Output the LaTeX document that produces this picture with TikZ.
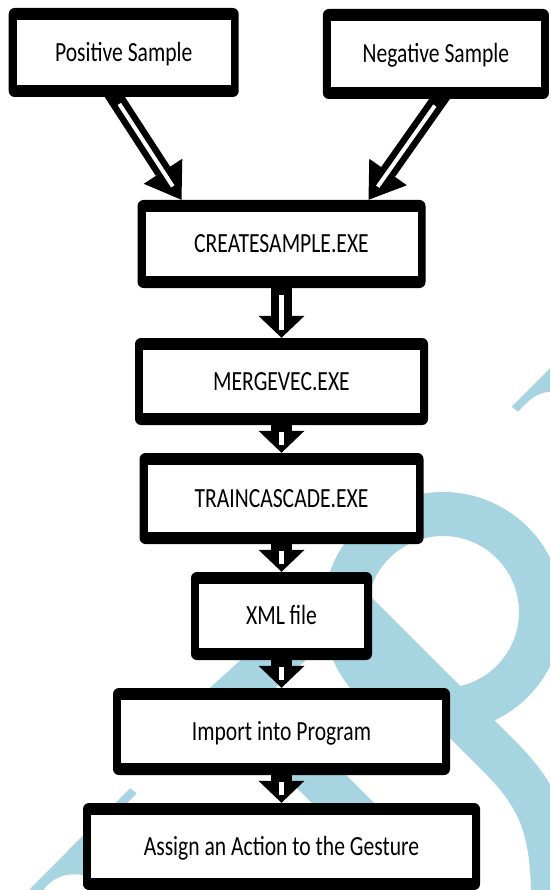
\documentclass[tikz,border=0pt]{standalone}
\usepackage{fontspec}
\setmainfont{Carlito}[FakeStretch=0.78]
\usetikzlibrary{arrows.meta,calc}
\definecolor{marca}{RGB}{166,212,225}

\begin{document}
\begin{tikzpicture}[x=1pt, y=1pt,
    etapa/.style={fill=black, rounded corners=6pt, inner sep=0pt,
        font=\fontsize{27.7pt}{30pt}\selectfont, text height=17.5pt, text depth=0pt,
        path picture={\fill[white, sharp corners]
            ([shift={(8pt,-12pt)}]path picture bounding box.north west) rectangle
            ([shift={(-8pt,12pt)}]path picture bounding box.south east);}},
    seta/.style={line width=21pt, -{Triangle[width=46pt, length=22pt, line width=0pt]}},
    setad/.style={line width=17pt, -{Triangle[width=46pt, length=34pt, line width=0pt]}},
    miolo/.style={white, line width=5pt}]

    \useasboundingbox (0,0) rectangle (550,-890);

    % Marca d'agua (fundo)
    \begin{scope}
        \clip (0,0) rectangle (550,-890);
        \draw[marca, line width=44pt] (443,-612) circle (98pt);
        \draw[marca, line width=44pt] (347,-593) -- (199,-727.6);
        \draw[marca, line width=44pt] (345,-602) -- (500,-757) .. controls (540,-797) and (553,-830) .. (553,-900);
        \draw[marca, line width=44pt] (280,-740) -- (450,-910);
        \fill[marca] (511.7,-406.7) -- (551,-367.3) -- (551,-391.7) .. controls (538,-392) and (528,-400) .. (518.3,-411.7) -- cycle;
        \fill[marca] (130,-788.3) -- (136.7,-793.3) -- (90,-840) -- (90,-875) -- (81.7,-875) .. controls (66,-872) and (52,-878) .. (43.3,-890) -- (29,-890) -- cycle;
    \end{scope}

    % Caixas
    \def\xc{281.5}
    \node[etapa, minimum width=230pt, minimum height=89pt] (pos) at (123.7,-52.5) {Positive Sample};
    \node[etapa, minimum width=226pt, minimum height=90pt] (neg) at (435.9,-54) {Negative Sample};
    \node[etapa, minimum width=288pt, minimum height=88pt] (create) at (\xc,-244) {CREATESAMPLE.EXE};
    \node[etapa, minimum width=293pt, minimum height=87pt] (merge) at (\xc,-381.5) {MERGEVEC.EXE};
    \node[etapa, minimum width=284pt, minimum height=91pt] (train) at (\xc,-498.5) {TRAINCASCADE.EXE};
    \node[etapa, minimum width=181pt, minimum height=88pt] (xml) at (\xc,-616) {XML file};
    \node[etapa, minimum width=337pt, minimum height=87pt] (import) at (\xc,-731.5) {Import into Program};
    \node[etapa, minimum width=397pt, minimum height=87pt] (assign) at (\xc,-846.5) {Assign an Action to the Gesture};

    % Setas diagonais
    \coordinate (pa) at ([shift={(-12pt,5pt)}]pos.south);
    \coordinate (pb) at ([xshift=-100pt]create.north);
    \coordinate (na) at ([shift={(7pt,5pt)}]neg.south);
    \coordinate (nb) at ([xshift=87pt]create.north);
    \draw[setad] (pa) -- (pb);
    \draw[miolo, line width=4pt] ($(pa)!14pt!(pb)$) -- ($(pb)!16pt!(pa)$);
    \draw[setad] (na) -- (nb);
    \draw[miolo, line width=4pt] ($(na)!14pt!(nb)$) -- ($(nb)!16pt!(na)$);

    % Setas verticais
    \foreach \a/\b in {create/merge, merge/train, train/xml, xml/import, import/assign} {
        \draw[seta] (\a.south) -- (\b.north);
        \draw[miolo] ([yshift=-7pt]\a.south) -- ([yshift=8pt]\b.north);
    }

\end{tikzpicture}
\end{document}
